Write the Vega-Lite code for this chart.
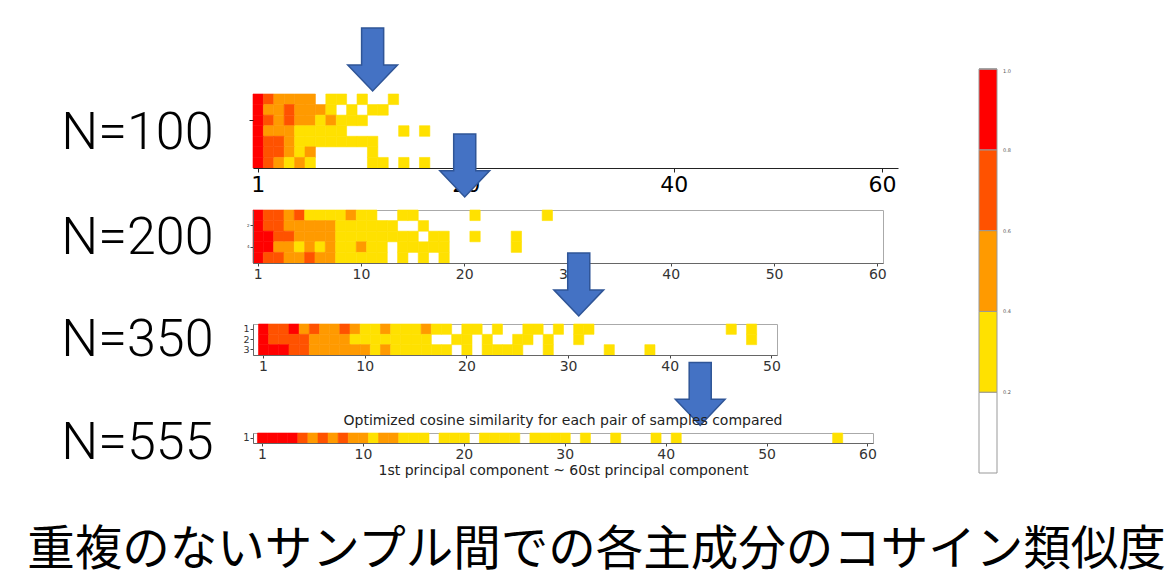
{
  "$schema": "https://vega.github.io/schema/vega-lite/v6.json",
  "background": "white",
  "padding": {"left": 27, "top": 25, "right": 10, "bottom": 5},
  "bounds": "flush",
  "spacing": 0,
  "config": {
    "font": "DejaVu Sans",
    "view": {"stroke": "#aaaaaa"},
    "axis": {"labelFont": "DejaVu Sans", "labelColor": "#333333", "tickColor": "#444444", "domainColor": "#666666", "grid": false},
    "legend": {"labelFont": "DejaVu Sans"}
  },
  "title": {
    "text": "重複のないサンプル間での各主成分のコサイン類似度",
    "orient": "bottom",
    "anchor": "start",
    "frame": "bounds",
    "dx": -33,
    "offset": 49,
    "font": "Noto Sans CJK JP",
    "fontSize": 47.5,
    "fontWeight": "normal",
    "color": "#000000"
  },
  "datasets": {
    "n100": [
      {"pc":1,"pair":1,"sim":0.9},{"pc":2,"pair":1,"sim":0.7},{"pc":3,"pair":1,"sim":0.5},{"pc":4,"pair":1,"sim":0.5},{"pc":5,"pair":1,"sim":0.5},{"pc":6,"pair":1,"sim":0.5},{"pc":8,"pair":1,"sim":0.3},{"pc":9,"pair":1,"sim":0.3},{"pc":11,"pair":1,"sim":0.3},{"pc":14,"pair":1,"sim":0.3},
      {"pc":1,"pair":2,"sim":0.9},{"pc":2,"pair":2,"sim":0.5},{"pc":3,"pair":2,"sim":0.5},{"pc":4,"pair":2,"sim":0.7},{"pc":5,"pair":2,"sim":0.5},{"pc":6,"pair":2,"sim":0.5},{"pc":7,"pair":2,"sim":0.5},{"pc":8,"pair":2,"sim":0.3},{"pc":10,"pair":2,"sim":0.3},{"pc":12,"pair":2,"sim":0.3},{"pc":13,"pair":2,"sim":0.3},
      {"pc":1,"pair":3,"sim":0.9},{"pc":2,"pair":3,"sim":0.7},{"pc":3,"pair":3,"sim":0.5},{"pc":4,"pair":3,"sim":0.7},{"pc":5,"pair":3,"sim":0.5},{"pc":6,"pair":3,"sim":0.5},{"pc":7,"pair":3,"sim":0.3},{"pc":8,"pair":3,"sim":0.5},{"pc":9,"pair":3,"sim":0.3},{"pc":10,"pair":3,"sim":0.3},{"pc":11,"pair":3,"sim":0.3},
      {"pc":1,"pair":4,"sim":0.9},{"pc":2,"pair":4,"sim":0.5},{"pc":3,"pair":4,"sim":0.5},{"pc":4,"pair":4,"sim":0.5},{"pc":5,"pair":4,"sim":0.3},{"pc":6,"pair":4,"sim":0.3},{"pc":7,"pair":4,"sim":0.3},{"pc":8,"pair":4,"sim":0.3},{"pc":9,"pair":4,"sim":0.3},{"pc":15,"pair":4,"sim":0.3},{"pc":17,"pair":4,"sim":0.3},
      {"pc":1,"pair":5,"sim":0.9},{"pc":2,"pair":5,"sim":0.7},{"pc":3,"pair":5,"sim":0.7},{"pc":4,"pair":5,"sim":0.5},{"pc":5,"pair":5,"sim":0.3},{"pc":6,"pair":5,"sim":0.3},{"pc":7,"pair":5,"sim":0.3},{"pc":8,"pair":5,"sim":0.3},{"pc":9,"pair":5,"sim":0.3},{"pc":10,"pair":5,"sim":0.3},{"pc":11,"pair":5,"sim":0.3},{"pc":12,"pair":5,"sim":0.3},
      {"pc":1,"pair":6,"sim":0.9},{"pc":2,"pair":6,"sim":0.7},{"pc":3,"pair":6,"sim":0.7},{"pc":4,"pair":6,"sim":0.5},{"pc":5,"pair":6,"sim":0.3},{"pc":6,"pair":6,"sim":0.5},{"pc":12,"pair":6,"sim":0.3},
      {"pc":1,"pair":7,"sim":0.9},{"pc":2,"pair":7,"sim":0.7},{"pc":3,"pair":7,"sim":0.5},{"pc":4,"pair":7,"sim":0.3},{"pc":5,"pair":7,"sim":0.5},{"pc":6,"pair":7,"sim":0.3},{"pc":12,"pair":7,"sim":0.3},{"pc":13,"pair":7,"sim":0.3},{"pc":15,"pair":7,"sim":0.3},{"pc":17,"pair":7,"sim":0.3}
    ],
    "n200": [
      {"pc":1,"pair":1,"sim":0.9},{"pc":2,"pair":1,"sim":0.7},{"pc":3,"pair":1,"sim":0.7},{"pc":4,"pair":1,"sim":0.5},{"pc":5,"pair":1,"sim":0.7},{"pc":6,"pair":1,"sim":0.3},{"pc":7,"pair":1,"sim":0.3},{"pc":8,"pair":1,"sim":0.3},{"pc":9,"pair":1,"sim":0.3},{"pc":10,"pair":1,"sim":0.5},{"pc":11,"pair":1,"sim":0.3},{"pc":12,"pair":1,"sim":0.3},{"pc":15,"pair":1,"sim":0.3},{"pc":16,"pair":1,"sim":0.3},{"pc":22,"pair":1,"sim":0.3},{"pc":29,"pair":1,"sim":0.3},
      {"pc":1,"pair":2,"sim":0.9},{"pc":2,"pair":2,"sim":0.7},{"pc":3,"pair":2,"sim":0.7},{"pc":4,"pair":2,"sim":0.5},{"pc":5,"pair":2,"sim":0.5},{"pc":6,"pair":2,"sim":0.5},{"pc":7,"pair":2,"sim":0.5},{"pc":8,"pair":2,"sim":0.5},{"pc":9,"pair":2,"sim":0.3},{"pc":10,"pair":2,"sim":0.3},{"pc":11,"pair":2,"sim":0.3},{"pc":12,"pair":2,"sim":0.3},{"pc":13,"pair":2,"sim":0.3},{"pc":14,"pair":2,"sim":0.3},{"pc":17,"pair":2,"sim":0.3},
      {"pc":1,"pair":3,"sim":0.9},{"pc":2,"pair":3,"sim":0.9},{"pc":3,"pair":3,"sim":0.7},{"pc":4,"pair":3,"sim":0.7},{"pc":5,"pair":3,"sim":0.5},{"pc":6,"pair":3,"sim":0.5},{"pc":7,"pair":3,"sim":0.5},{"pc":8,"pair":3,"sim":0.5},{"pc":9,"pair":3,"sim":0.3},{"pc":10,"pair":3,"sim":0.3},{"pc":11,"pair":3,"sim":0.3},{"pc":12,"pair":3,"sim":0.3},{"pc":13,"pair":3,"sim":0.3},{"pc":14,"pair":3,"sim":0.3},{"pc":15,"pair":3,"sim":0.3},{"pc":16,"pair":3,"sim":0.3},{"pc":18,"pair":3,"sim":0.3},{"pc":19,"pair":3,"sim":0.3},{"pc":22,"pair":3,"sim":0.3},{"pc":26,"pair":3,"sim":0.3},
      {"pc":1,"pair":4,"sim":0.9},{"pc":2,"pair":4,"sim":0.9},{"pc":3,"pair":4,"sim":0.5},{"pc":4,"pair":4,"sim":0.5},{"pc":5,"pair":4,"sim":0.3},{"pc":6,"pair":4,"sim":0.5},{"pc":7,"pair":4,"sim":0.3},{"pc":8,"pair":4,"sim":0.5},{"pc":9,"pair":4,"sim":0.3},{"pc":10,"pair":4,"sim":0.3},{"pc":11,"pair":4,"sim":0.5},{"pc":12,"pair":4,"sim":0.3},{"pc":13,"pair":4,"sim":0.3},{"pc":15,"pair":4,"sim":0.3},{"pc":16,"pair":4,"sim":0.3},{"pc":17,"pair":4,"sim":0.3},{"pc":18,"pair":4,"sim":0.3},{"pc":19,"pair":4,"sim":0.3},{"pc":26,"pair":4,"sim":0.3},
      {"pc":1,"pair":5,"sim":0.9},{"pc":2,"pair":5,"sim":0.7},{"pc":3,"pair":5,"sim":0.7},{"pc":4,"pair":5,"sim":0.5},{"pc":5,"pair":5,"sim":0.5},{"pc":6,"pair":5,"sim":0.7},{"pc":7,"pair":5,"sim":0.5},{"pc":8,"pair":5,"sim":0.5},{"pc":9,"pair":5,"sim":0.3},{"pc":10,"pair":5,"sim":0.3},{"pc":11,"pair":5,"sim":0.3},{"pc":12,"pair":5,"sim":0.3},{"pc":13,"pair":5,"sim":0.3},{"pc":15,"pair":5,"sim":0.3},{"pc":17,"pair":5,"sim":0.3},{"pc":19,"pair":5,"sim":0.3}
    ],
    "n350": [
      {"pc":1,"pair":1,"sim":0.9},{"pc":2,"pair":1,"sim":0.7},{"pc":3,"pair":1,"sim":0.7},{"pc":4,"pair":1,"sim":0.9},{"pc":5,"pair":1,"sim":0.5},{"pc":6,"pair":1,"sim":0.7},{"pc":7,"pair":1,"sim":0.5},{"pc":8,"pair":1,"sim":0.5},{"pc":9,"pair":1,"sim":0.7},{"pc":10,"pair":1,"sim":0.5},{"pc":11,"pair":1,"sim":0.3},{"pc":12,"pair":1,"sim":0.3},{"pc":13,"pair":1,"sim":0.5},{"pc":14,"pair":1,"sim":0.3},{"pc":15,"pair":1,"sim":0.3},{"pc":16,"pair":1,"sim":0.3},{"pc":17,"pair":1,"sim":0.5},{"pc":18,"pair":1,"sim":0.3},{"pc":19,"pair":1,"sim":0.3},{"pc":21,"pair":1,"sim":0.3},{"pc":22,"pair":1,"sim":0.3},{"pc":24,"pair":1,"sim":0.3},{"pc":27,"pair":1,"sim":0.3},{"pc":28,"pair":1,"sim":0.3},{"pc":30,"pair":1,"sim":0.3},{"pc":32,"pair":1,"sim":0.3},{"pc":33,"pair":1,"sim":0.3},{"pc":47,"pair":1,"sim":0.3},{"pc":49,"pair":1,"sim":0.3},
      {"pc":1,"pair":2,"sim":0.9},{"pc":2,"pair":2,"sim":0.7},{"pc":3,"pair":2,"sim":0.7},{"pc":4,"pair":2,"sim":0.7},{"pc":5,"pair":2,"sim":0.7},{"pc":6,"pair":2,"sim":0.5},{"pc":7,"pair":2,"sim":0.5},{"pc":8,"pair":2,"sim":0.5},{"pc":9,"pair":2,"sim":0.5},{"pc":10,"pair":2,"sim":0.3},{"pc":11,"pair":2,"sim":0.3},{"pc":12,"pair":2,"sim":0.3},{"pc":13,"pair":2,"sim":0.3},{"pc":14,"pair":2,"sim":0.3},{"pc":15,"pair":2,"sim":0.3},{"pc":16,"pair":2,"sim":0.3},{"pc":17,"pair":2,"sim":0.3},{"pc":20,"pair":2,"sim":0.3},{"pc":21,"pair":2,"sim":0.3},{"pc":23,"pair":2,"sim":0.3},{"pc":26,"pair":2,"sim":0.3},{"pc":27,"pair":2,"sim":0.3},{"pc":29,"pair":2,"sim":0.3},{"pc":32,"pair":2,"sim":0.3},{"pc":49,"pair":2,"sim":0.3},
      {"pc":1,"pair":3,"sim":0.9},{"pc":2,"pair":3,"sim":0.9},{"pc":3,"pair":3,"sim":0.9},{"pc":4,"pair":3,"sim":0.7},{"pc":5,"pair":3,"sim":0.7},{"pc":6,"pair":3,"sim":0.5},{"pc":7,"pair":3,"sim":0.5},{"pc":8,"pair":3,"sim":0.5},{"pc":9,"pair":3,"sim":0.5},{"pc":10,"pair":3,"sim":0.5},{"pc":11,"pair":3,"sim":0.5},{"pc":12,"pair":3,"sim":0.3},{"pc":13,"pair":3,"sim":0.5},{"pc":14,"pair":3,"sim":0.3},{"pc":15,"pair":3,"sim":0.3},{"pc":16,"pair":3,"sim":0.3},{"pc":17,"pair":3,"sim":0.3},{"pc":18,"pair":3,"sim":0.3},{"pc":19,"pair":3,"sim":0.3},{"pc":21,"pair":3,"sim":0.3},{"pc":23,"pair":3,"sim":0.3},{"pc":24,"pair":3,"sim":0.3},{"pc":25,"pair":3,"sim":0.3},{"pc":26,"pair":3,"sim":0.3},{"pc":29,"pair":3,"sim":0.3},{"pc":35,"pair":3,"sim":0.3},{"pc":39,"pair":3,"sim":0.3}
    ],
    "n555": [
      {"pc":1,"pair":1,"sim":0.9},{"pc":2,"pair":1,"sim":0.9},{"pc":3,"pair":1,"sim":0.9},{"pc":4,"pair":1,"sim":0.9},{"pc":5,"pair":1,"sim":0.7},{"pc":6,"pair":1,"sim":0.5},{"pc":7,"pair":1,"sim":0.7},{"pc":8,"pair":1,"sim":0.5},{"pc":9,"pair":1,"sim":0.7},{"pc":10,"pair":1,"sim":0.5},{"pc":11,"pair":1,"sim":0.5},{"pc":12,"pair":1,"sim":0.3},{"pc":13,"pair":1,"sim":0.5},{"pc":14,"pair":1,"sim":0.5},{"pc":15,"pair":1,"sim":0.3},{"pc":16,"pair":1,"sim":0.3},{"pc":17,"pair":1,"sim":0.3},{"pc":19,"pair":1,"sim":0.3},{"pc":20,"pair":1,"sim":0.3},{"pc":21,"pair":1,"sim":0.3},{"pc":23,"pair":1,"sim":0.3},{"pc":24,"pair":1,"sim":0.3},{"pc":25,"pair":1,"sim":0.3},{"pc":26,"pair":1,"sim":0.3},{"pc":28,"pair":1,"sim":0.3},{"pc":29,"pair":1,"sim":0.3},{"pc":30,"pair":1,"sim":0.3},{"pc":31,"pair":1,"sim":0.3},{"pc":33,"pair":1,"sim":0.3},{"pc":36,"pair":1,"sim":0.3},{"pc":40,"pair":1,"sim":0.3},{"pc":42,"pair":1,"sim":0.3},{"pc":58,"pair":1,"sim":0.3}
    ],
    "a100": [{"pc": 12, "pos": -2.76}],
    "a200": [{"pc": 21, "pos": -3.7}],
    "a350": [{"pc": 32, "pos": -3.32}],
    "a555": [{"pc": 44}],
    "gap": [{"g": 1}]
  },
  "vconcat": [
    {
      "width": 645,
      "height": 74,
      "view": {"stroke": null},
      "resolve": {"scale": {"y": "independent"}},
      "layer": [
        {
          "data": {"name": "n100"},
          "mark": {"type": "rect", "strokeWidth": 0.6},
          "encoding": {
            "x": {"field": "pc", "type": "ordinal",
              "scale": {"domain": [1,2,3,4,5,6,7,8,9,10,11,12,13,14,15,16,17,18,19,20,21,22,23,24,25,26,27,28,29,30,31,32,33,34,35,36,37,38,39,40,41,42,43,44,45,46,47,48,49,50,51,52,53,54,55,56,57,58,59,60,61,62], "paddingInner": 0, "paddingOuter": 0},
              "axis": {"values": [1,21,41,61], "labelExpr": "datum.value == 1 ? '1' : format(datum.value - 1, 'd')", "labelAngle": 0, "labelFontSize": 22, "labelColor": "#000000", "labelPadding": 2, "tickSize": 4, "domainColor": "#222222", "tickColor": "#222222", "title": null}},
            "y": {"field": "pair", "type": "ordinal",
              "scale": {"domain": [1,2,3,4,5,6,7], "paddingInner": 0, "paddingOuter": 0},
              "axis": {"values": [3], "labels": false, "tickSize": 4, "domain": false, "tickColor": "#222222",
                "title": "N=100", "titleX": -40, "titleY": 38, "titleAngle": 0, "titleAlign": "right", "titleBaseline": "middle",
                "titleFont": "Roboto", "titleFontWeight": 300, "titleFontSize": 52, "titleColor": "#000000"}},
            "color": {"field": "sim", "type": "quantitative",
              "scale": {"type": "quantize", "domain": [0, 1], "range": ["#ffffff", "#ffe100", "#ff9a00", "#ff5200", "#ff0000"]},
              "legend": {"type": "gradient", "orient": "none", "legendX": 726, "legendY": -25, "direction": "vertical", "gradientLength": 404, "gradientThickness": 18, "title": null, "labelFontSize": 5, "labelColor": "#555555", "format": ".1f", "values": [0, 0.2, 0.4, 0.6, 0.8, 1], "gradientStrokeColor": "#999999", "gradientStrokeWidth": 1, "labelOffset": 6, "labelOverlap": false, "padding": 0}},
            "stroke": {"field": "sim", "type": "quantitative",
              "scale": {"type": "quantize", "domain": [0, 1], "range": ["#ffffff", "#ffe100", "#ff9a00", "#ff5200", "#ff0000"]},
              "legend": null}
          }
        },
        {
          "data": {"name": "a100"},
          "mark": {"type": "point", "shape": "M-0.35,-1L0.35,-1L0.35,0.17L0.79,0.17L0,1L-0.79,0.17L-0.35,0.17Z", "size": 3969, "filled": true, "fill": "#4472c4", "stroke": "#2f5597", "strokeWidth": 1.5, "opacity": 1},
          "encoding": {
            "x": {"field": "pc", "type": "ordinal"},
            "y": {"field": "pos", "type": "quantitative", "scale": {"domain": [0.5, 7.5], "reverse": true, "nice": false, "zero": false}, "axis": null}
          }
        }
      ]
    },
    {"width": 10, "height": 42, "view": {"stroke": null}, "data": {"name": "gap"}, "mark": {"type": "point", "opacity": 0}, "encoding": {}},
    {
      "width": 630,
      "height": 53,
      "view": {"stroke": "#aaaaaa"},
      "resolve": {"scale": {"y": "independent"}},
      "layer": [
        {
          "data": {"name": "n200"},
          "mark": {"type": "rect", "strokeWidth": 0.6},
          "encoding": {
            "x": {"field": "pc", "type": "ordinal",
              "scale": {"domain": [1,2,3,4,5,6,7,8,9,10,11,12,13,14,15,16,17,18,19,20,21,22,23,24,25,26,27,28,29,30,31,32,33,34,35,36,37,38,39,40,41,42,43,44,45,46,47,48,49,50,51,52,53,54,55,56,57,58,59,60,61], "paddingInner": 0, "paddingOuter": 0},
              "axis": {"values": [1,11,21,31,41,51,61], "labelExpr": "datum.value == 1 ? '1' : format(datum.value - 1, 'd')", "labelAngle": 0, "labelFontSize": 14, "labelPadding": 1, "tickSize": 3, "title": null}},
            "y": {"field": "pair", "type": "ordinal",
              "scale": {"domain": [1,2,3,4,5], "paddingInner": 0, "paddingOuter": 0},
              "axis": {"values": [2,4], "labelFontSize": 4, "tickSize": 3, "labelPadding": 1,
                "title": "N=200", "titleX": -40, "titleY": 27, "titleAngle": 0, "titleAlign": "right", "titleBaseline": "middle",
                "titleFont": "Roboto", "titleFontWeight": 300, "titleFontSize": 52, "titleColor": "#000000"}},
            "color": {"field": "sim", "type": "quantitative",
              "scale": {"type": "quantize", "domain": [0, 1], "range": ["#ffffff", "#ffe100", "#ff9a00", "#ff5200", "#ff0000"]},
              "legend": {"type": "gradient", "orient": "none", "legendX": 726, "legendY": -25, "direction": "vertical", "gradientLength": 404, "gradientThickness": 18, "title": null, "labelFontSize": 5, "labelColor": "#555555", "format": ".1f", "values": [0, 0.2, 0.4, 0.6, 0.8, 1], "gradientStrokeColor": "#999999", "gradientStrokeWidth": 1, "labelOffset": 6, "labelOverlap": false, "padding": 0}},
            "stroke": {"field": "sim", "type": "quantitative",
              "scale": {"type": "quantize", "domain": [0, 1], "range": ["#ffffff", "#ffe100", "#ff9a00", "#ff5200", "#ff0000"]},
              "legend": null}
          }
        },
        {
          "data": {"name": "a200"},
          "mark": {"type": "point", "shape": "M-0.35,-1L0.35,-1L0.35,0.17L0.79,0.17L0,1L-0.79,0.17L-0.35,0.17Z", "size": 3969, "filled": true, "fill": "#4472c4", "stroke": "#2f5597", "strokeWidth": 1.5, "opacity": 1},
          "encoding": {
            "x": {"field": "pc", "type": "ordinal"},
            "y": {"field": "pos", "type": "quantitative", "scale": {"domain": [0.5, 5.5], "reverse": true, "nice": false, "zero": false}, "axis": null}
          }
        }
      ]
    },
    {"width": 10, "height": 61, "view": {"stroke": null}, "data": {"name": "gap"}, "mark": {"type": "point", "opacity": 0}, "encoding": {}},
    {
      "width": 524,
      "height": 31,
      "view": {"stroke": "#aaaaaa"},
      "resolve": {"scale": {"y": "independent"}},
      "layer": [
        {
          "data": {"name": "n350"},
          "mark": {"type": "rect", "strokeWidth": 0.6},
          "encoding": {
            "x": {"field": "pc", "type": "ordinal",
              "scale": {"domain": [1,2,3,4,5,6,7,8,9,10,11,12,13,14,15,16,17,18,19,20,21,22,23,24,25,26,27,28,29,30,31,32,33,34,35,36,37,38,39,40,41,42,43,44,45,46,47,48,49,50,51], "paddingInner": 0, "paddingOuter": 0.27, "align": 1},
              "axis": {"values": [1,11,21,31,41,51], "labelExpr": "datum.value == 1 ? '1' : format(datum.value - 1, 'd')", "labelAngle": 0, "labelFontSize": 14, "labelPadding": 1, "tickSize": 3, "title": null}},
            "y": {"field": "pair", "type": "ordinal",
              "scale": {"domain": [1,2,3], "paddingInner": 0, "paddingOuter": 0},
              "axis": {"values": [1,2,3], "labelFontSize": 9.5, "tickSize": 3, "labelPadding": 1,
                "title": "N=350", "titleX": -40, "titleY": 15, "titleAngle": 0, "titleAlign": "right", "titleBaseline": "middle",
                "titleFont": "Roboto", "titleFontWeight": 300, "titleFontSize": 52, "titleColor": "#000000"}},
            "color": {"field": "sim", "type": "quantitative",
              "scale": {"type": "quantize", "domain": [0, 1], "range": ["#ffffff", "#ffe100", "#ff9a00", "#ff5200", "#ff0000"]},
              "legend": {"type": "gradient", "orient": "none", "legendX": 726, "legendY": -25, "direction": "vertical", "gradientLength": 404, "gradientThickness": 18, "title": null, "labelFontSize": 5, "labelColor": "#555555", "format": ".1f", "values": [0, 0.2, 0.4, 0.6, 0.8, 1], "gradientStrokeColor": "#999999", "gradientStrokeWidth": 1, "labelOffset": 6, "labelOverlap": false, "padding": 0}},
            "stroke": {"field": "sim", "type": "quantitative",
              "scale": {"type": "quantize", "domain": [0, 1], "range": ["#ffffff", "#ffe100", "#ff9a00", "#ff5200", "#ff0000"]},
              "legend": null}
          }
        },
        {
          "data": {"name": "a350"},
          "mark": {"type": "point", "shape": "M-0.35,-1L0.35,-1L0.35,0.17L0.79,0.17L0,1L-0.79,0.17L-0.35,0.17Z", "size": 3969, "filled": true, "fill": "#4472c4", "stroke": "#2f5597", "strokeWidth": 1.5, "opacity": 1},
          "encoding": {
            "x": {"field": "pc", "type": "ordinal"},
            "y": {"field": "pos", "type": "quantitative", "scale": {"domain": [0.5, 3.5], "reverse": true, "nice": false, "zero": false}, "axis": null}
          }
        }
      ]
    },
    {
      "width": 620,
      "height": 78,
      "view": {"stroke": null},
      "data": {"name": "a555"},
      "mark": {"type": "point", "shape": "M-0.35,-1L0.35,-1L0.35,0.17L0.79,0.17L0,1L-0.79,0.17L-0.35,0.17Z", "size": 3969, "filled": true, "fill": "#4472c4", "stroke": "#2f5597", "strokeWidth": 1.5, "opacity": 1},
      "encoding": {
        "x": {"field": "pc", "type": "ordinal",
          "scale": {"domain": [1,2,3,4,5,6,7,8,9,10,11,12,13,14,15,16,17,18,19,20,21,22,23,24,25,26,27,28,29,30,31,32,33,34,35,36,37,38,39,40,41,42,43,44,45,46,47,48,49,50,51,52,53,54,55,56,57,58,59,60,61], "paddingInner": 0, "paddingOuter": 0.22, "align": 1},
          "axis": null}
      }
    },
    {
      "width": 620,
      "height": 10,
      "view": {"stroke": "#aaaaaa"},
      "title": {"text": "Optimized cosine similarity for each pair of samples compared", "fontSize": 14, "fontWeight": "normal", "font": "DejaVu Sans", "color": "#222222", "offset": -12},
      "data": {"name": "n555"},
      "mark": {"type": "rect", "strokeWidth": 0.6},
      "encoding": {
        "x": {"field": "pc", "type": "ordinal",
          "scale": {"domain": [1,2,3,4,5,6,7,8,9,10,11,12,13,14,15,16,17,18,19,20,21,22,23,24,25,26,27,28,29,30,31,32,33,34,35,36,37,38,39,40,41,42,43,44,45,46,47,48,49,50,51,52,53,54,55,56,57,58,59,60,61], "paddingInner": 0, "paddingOuter": 0.22, "align": 1},
          "axis": {"values": [1,11,21,31,41,51,61], "labelExpr": "datum.value == 1 ? '1' : format(datum.value - 1, 'd')", "labelAngle": 0, "labelFontSize": 14, "labelPadding": 1, "tickSize": 3,
            "title": "1st principal component ~ 60st principal component", "titleFont": "DejaVu Sans", "titleFontSize": 14, "titleFontWeight": "normal", "titleColor": "#222222", "titlePadding": 2}},
        "y": {"field": "pair", "type": "ordinal",
          "scale": {"domain": [1], "paddingInner": 0, "paddingOuter": 0},
          "axis": {"values": [1], "labelFontSize": 10, "tickSize": 3, "labelPadding": 1,
            "title": "N=555", "titleX": -40, "titleY": 9, "titleAngle": 0, "titleAlign": "right", "titleBaseline": "middle",
            "titleFont": "Roboto", "titleFontWeight": 300, "titleFontSize": 52, "titleColor": "#000000"}},
        "color": {"field": "sim", "type": "quantitative",
          "scale": {"type": "quantize", "domain": [0, 1], "range": ["#ffffff", "#ffe100", "#ff9a00", "#ff5200", "#ff0000"]},
          "legend": {"type": "gradient", "orient": "none", "legendX": 726, "legendY": -25, "direction": "vertical", "gradientLength": 404, "gradientThickness": 18, "title": null, "labelFontSize": 5, "labelColor": "#555555", "format": ".1f", "values": [0, 0.2, 0.4, 0.6, 0.8, 1], "gradientStrokeColor": "#999999", "gradientStrokeWidth": 1, "labelOffset": 6, "labelOverlap": false, "padding": 0}},
        "stroke": {"field": "sim", "type": "quantitative",
          "scale": {"type": "quantize", "domain": [0, 1], "range": ["#ffffff", "#ffe100", "#ff9a00", "#ff5200", "#ff0000"]},
          "legend": null}
      }
    }
  ]
}
